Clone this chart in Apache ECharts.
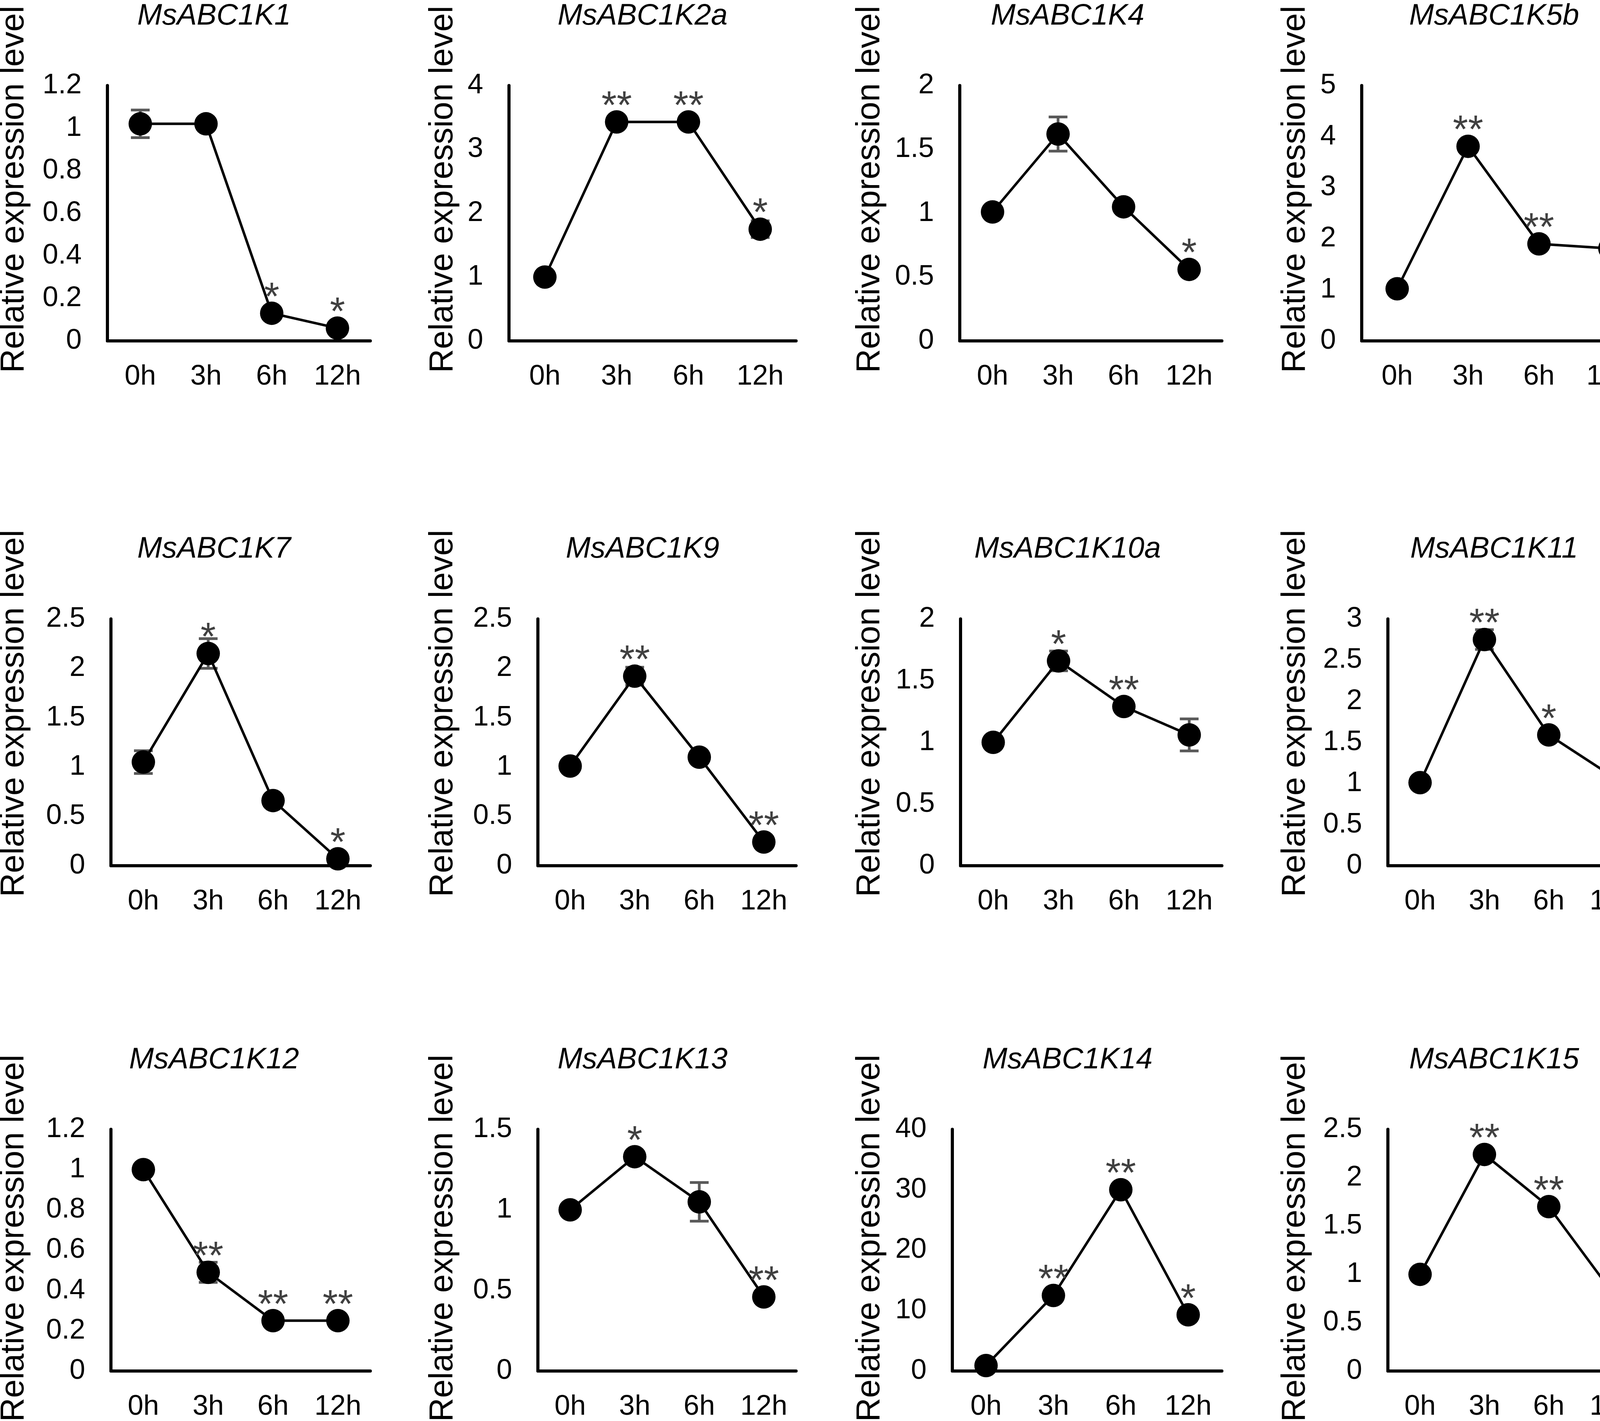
<!DOCTYPE html>
<html><head><meta charset="utf-8">
<script src="https://cdn.jsdelivr.net/npm/echarts@6/dist/echarts.min.js"></script>
<style>html,body{margin:0;padding:0;background:#fff}#c{width:4222px;height:3639px}</style>
</head><body><div id="c"></div>
<script>
// ---------- DATA ----------
const categories = ['0h', '3h', '6h', '12h'];
const geneNames = ['MsABC1K1','MsABC1K2a','MsABC1K4','MsABC1K5b','MsABC1K7','MsABC1K9','MsABC1K10a','MsABC1K11','MsABC1K12','MsABC1K13','MsABC1K14','MsABC1K15'];
const yMax  = [1.2, 4, 2, 5, 2.5, 2.5, 2, 3, 1.2, 1.5, 40, 2.5];
const yStep = [0.2, 1, 0.5, 1, 0.5, 0.5, 0.5, 0.5, 0.2, 0.5, 10, 0.5];

const valK1   = [1.02, 1.02, 0.13, 0.06];
const valK2a  = [1.0, 3.43, 3.43, 1.75];
const valK4   = [1.01, 1.62, 1.05, 0.56];
const valK5b  = [1.02, 3.81, 1.9, 1.81];
const valK7   = [1.05, 2.15, 0.66, 0.07];
const valK9   = [1.01, 1.92, 1.1, 0.24];
const valK10a = [1.0, 1.66, 1.29, 1.06];
const valK11  = [1.01, 2.75, 1.59, 1.08];
const valK12  = [1.0, 0.49, 0.25, 0.25];
const valK13  = [1.0, 1.33, 1.05, 0.46];
const valK14  = [0.9, 12.5, 30.0, 9.3];
const valK15  = [1.0, 2.24, 1.7, 0.8];

const errK1   = [0.065, 0, 0, 0];
const errK2a  = [0, 0, 0, 0.13];
const errK4   = [0, 0.134, 0, 0];
const errK5b  = [0, 0, 0, 0];
const errK7   = [0.115, 0.15, 0, 0];
const errK9   = [0, 0.09, 0, 0];
const errK10a = [0, 0.08, 0, 0.13];
const errK11  = [0, 0.12, 0, 0];
const errK12  = [0, 0.05, 0, 0];
const errK13  = [0, 0, 0.12, 0];
const errK14  = [0, 0, 0, 0];
const errK15  = [0, 0, 0, 0];

const starK1   = ['', '', '*', '*'];
const starK2a  = ['', '**', '**', '*'];
const starK4   = ['', '', '', '*'];
const starK5b  = ['', '**', '**', '*'];
const starK7   = ['', '*', '', '*'];
const starK9   = ['', '**', '', '**'];
const starK10a = ['', '*', '**', ''];
const starK11  = ['', '**', '*', ''];
const starK12  = ['', '**', '**', '**'];
const starK13  = ['', '*', '', '**'];
const starK14  = ['', '**', '**', '*'];
const starK15  = ['', '**', '**', ''];

const allVals  = [valK1, valK2a, valK4, valK5b, valK7, valK9, valK10a, valK11, valK12, valK13, valK14, valK15];
const allErrs  = [errK1, errK2a, errK4, errK5b, errK7, errK9, errK10a, errK11, errK12, errK13, errK14, errK15];
const allStars = [starK1, starK2a, starK4, starK5b, starK7, starK9, starK10a, starK11, starK12, starK13, starK14, starK15];
const yAxisName = 'Relative expression level';

// ---------- LAYOUT ----------
const FONT = '"Liberation Sans", Arial, sans-serif';
const rowTop = [219, 1585, 2892];
const rowH = [654, 632, 632];
const colRight = [948, 2038, 3128, 4212];
const lefts = [[275, 1303, 2457, 3486], [284, 1377, 2459, 3553], [284, 1377, 2438, 3553]];
const titleX = [548, 1645, 2733, 3825];
const titleY = [42, 1407, 2715];
const nameX = [37, 1135, 2228, 3317];
const nameY = [485, 1827, 3171];

const grid = [], xAxis = [], yAxis = [], series = [], title = [], graphic = [];
geneNames.forEach((g, i) => {
  const r = Math.floor(i / 4), c = i % 4;
  grid.push({ left: lefts[r][c], top: rowTop[r], width: colRight[c] - lefts[r][c], height: rowH[r] });
  xAxis.push({
    gridIndex: i, type: 'category', data: categories, boundaryGap: true,
    axisLine: { lineStyle: { color: '#000', width: 8 } }, axisTick: { show: false },
    axisLabel: { color: '#000', fontSize: 72, fontFamily: FONT, margin: 56 },
    splitLine: { show: false }
  });
  yAxis.push({
    gridIndex: i, type: 'value', min: 0, max: yMax[i], interval: yStep[i],
    axisLine: { show: true, lineStyle: { color: '#000', width: 8 } }, axisTick: { show: false },
    splitLine: { show: false },
    axisLabel: { color: '#000', fontSize: 72, fontFamily: FONT, margin: 66 }
  });
  const vals = allVals[i], errs = allErrs[i], stars = allStars[i];
  series.push({
    type: 'custom', xAxisIndex: i, yAxisIndex: i, z: 1, silent: true,
    data: vals.map((v, j) => [j, v, errs[j]]).filter(d => d[2] > 0),
    renderItem: function (params, api) {
      const x = api.value(0), v = api.value(1), e = api.value(2);
      const hi = api.coord([x, v + e]), lo = api.coord([x, v - e]);
      const hw = 24;
      const st = { stroke: '#595959', lineWidth: 7 };
      return {
        type: 'group', children: [
          { type: 'line', shape: { x1: hi[0], y1: hi[1], x2: lo[0], y2: lo[1] }, style: st },
          { type: 'line', shape: { x1: hi[0] - hw, y1: hi[1], x2: hi[0] + hw, y2: hi[1] }, style: st },
          { type: 'line', shape: { x1: lo[0] - hw, y1: lo[1], x2: lo[0] + hw, y2: lo[1] }, style: st }
        ]
      };
    }
  });
  series.push({
    type: 'line', xAxisIndex: i, yAxisIndex: i, z: 3,
    data: vals.map((v, j) => ({ value: v, label: { show: stars[j] !== '', formatter: stars[j] || ' ' } })),
    symbol: 'circle', symbolSize: 60, showAllSymbol: true,
    itemStyle: { color: '#000' }, lineStyle: { color: '#000', width: 6.5 },
    label: { position: 'inside', offset: [0, -37], fontSize: 100, color: '#404040', fontFamily: FONT, textBorderWidth: 0 },
    emphasis: { disabled: true }
  });
  title.push({
    text: g, left: titleX[c], top: titleY[r] - 38, textAlign: 'center', padding: 0,
    textStyle: { fontSize: 76, fontStyle: 'italic', fontWeight: 'normal', color: '#000', fontFamily: FONT }
  });
  graphic.push({
    type: 'text', x: nameX[c], y: nameY[r], rotation: Math.PI / 2,
    style: { text: yAxisName, font: '85px "Liberation Sans", Arial, sans-serif', fill: '#000', align: 'center', verticalAlign: 'middle', textAlign: 'center', textVerticalAlign: 'middle' }
  });
});

const chart = echarts.init(document.getElementById('c'));
chart.setOption({ backgroundColor: '#fff', animation: false, grid, xAxis, yAxis, series, title, graphic });
</script></body></html>
